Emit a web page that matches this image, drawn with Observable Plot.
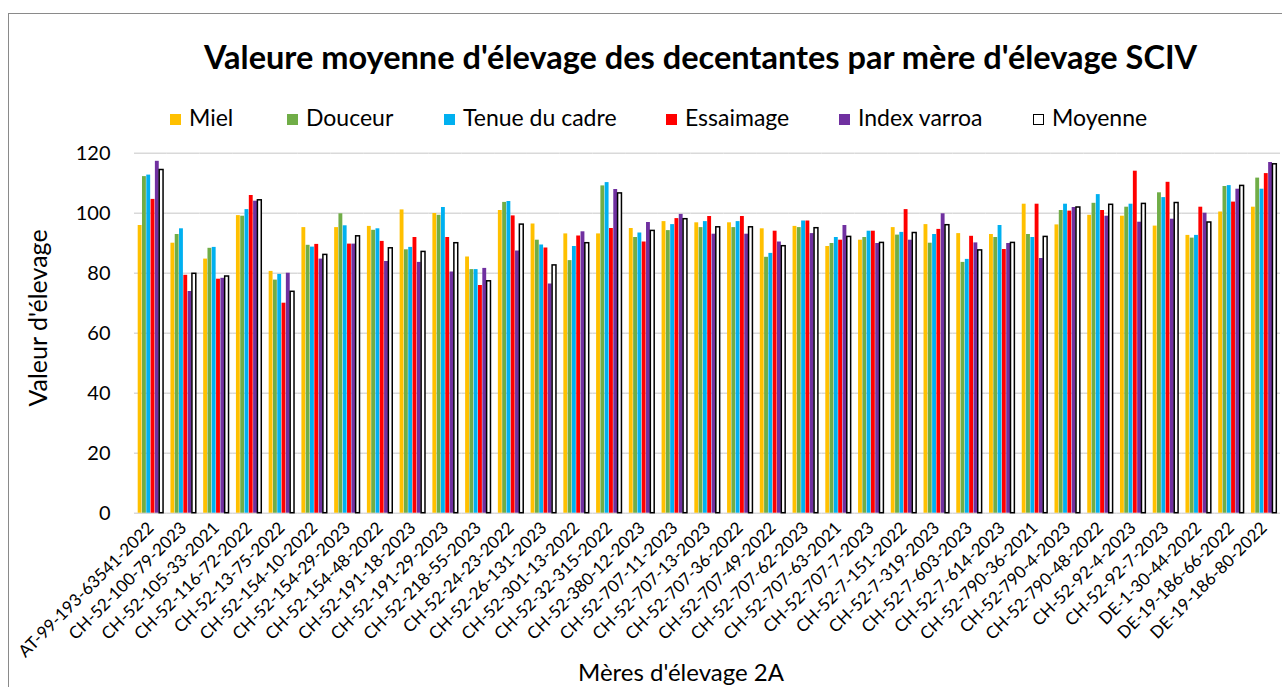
<!DOCTYPE html>
<html><head><meta charset="utf-8">
<script src="https://cdn.jsdelivr.net/npm/d3@7"></script>
<script src="https://cdn.jsdelivr.net/npm/@observablehq/plot@0.6"></script>
<style>
body{margin:0;background:#fff;font-family:Lato,sans-serif;color:#000;}
#wrap{position:relative;width:1282px;height:687px;overflow:hidden;background:#fff;}
#frame{position:absolute;left:8px;top:13px;width:1400px;height:800px;border-left:1.5px solid #8a8a8a;border-top:1.5px solid #8a8a8a;pointer-events:none;}
#header{position:absolute;left:0;top:0;width:1282px;height:130px;}
#title{position:absolute;left:204px;top:36px;font-size:32.5px;font-weight:bold;white-space:nowrap;line-height:42px;}
.li{position:absolute;top:103px;height:28px;line-height:28px;font-size:23px;white-space:nowrap;}
.sw{display:inline-block;width:11px;height:11px;margin-right:8px;vertical-align:middle;position:relative;top:-1px;box-sizing:border-box;}
#chart{position:absolute;left:0;top:130px;}
#ylab{position:absolute;left:37px;top:318px;transform:translate(-50%,-50%) rotate(-90deg);font-size:25px;white-space:nowrap;}
#xlab{position:absolute;left:681px;top:657px;transform:translateX(-50%);font-size:24px;white-space:nowrap;line-height:29px;}
</style>
</head><body>
<div id="wrap">
  <div id="header">
    <div id="title">Valeure moyenne d'élevage des decentantes par mère d'élevage SCIV</div>
    <div id="legend"></div>
  </div>
  <div id="chart"></div>
  <div id="ylab">Valeur d'élevage</div>
  <div id="xlab">Mères d'élevage 2A</div>
  <div id="frame"></div>
</div>
<script>
const names = ["AT-99-193-63541-2022","CH-52-100-79-2023","CH-52-105-33-2021","CH-52-116-72-2022","CH-52-13-75-2022","CH-52-154-10-2022","CH-52-154-29-2023","CH-52-154-48-2022","CH-52-191-18-2023","CH-52-191-29-2023","CH-52-218-55-2023","CH-52-24-23-2022","CH-52-26-131-2023","CH-52-301-13-2022","CH-52-32-315-2022","CH-52-380-12-2023","CH-52-707-11-2023","CH-52-707-13-2023","CH-52-707-36-2022","CH-52-707-49-2022","CH-52-707-62-2023","CH-52-707-63-2021","CH-52-707-7-2023","CH-52-7-151-2022","CH-52-7-319-2023","CH-52-7-603-2023","CH-52-7-614-2023","CH-52-790-36-2021","CH-52-790-4-2023","CH-52-790-48-2022","CH-52-92-4-2023","CH-52-92-7-2023","DE-1-30-44-2022","DE-19-186-66-2022","DE-19-186-80-2022"];
const miel      = [95.9,90.0,84.7,99.2,80.6,95.2,95.2,95.6,101.1,99.9,85.4,100.9,96.4,93.1,93.1,94.9,97.2,96.8,96.8,94.8,95.6,88.9,91.0,95.2,96.2,93.2,92.9,103.0,96.1,99.3,99.0,95.7,92.6,100.4,102.0];
const douceur   = [112.2,92.9,88.3,99.0,77.7,89.3,99.8,94.3,87.8,99.3,81.2,103.6,91.0,84.2,109.1,91.9,94.2,95.2,95.2,85.3,95.2,89.9,91.9,92.7,90.0,83.6,91.9,92.9,100.9,103.3,102.0,106.8,91.7,108.9,111.7];
const tenue     = [112.7,94.8,88.6,101.2,79.6,88.7,95.8,94.8,88.6,101.9,81.2,103.9,89.4,88.9,110.2,93.4,96.2,97.2,97.2,86.6,97.4,91.9,94.0,93.6,92.9,84.6,95.9,91.9,103.0,106.2,103.0,105.2,92.6,109.2,108.0];
const essaimage = [104.6,79.3,78.0,105.9,70.0,89.6,89.7,90.6,91.9,91.9,75.9,99.1,88.4,92.4,94.9,90.4,98.2,98.9,98.9,94.0,97.4,91.0,94.0,101.2,94.6,92.3,87.9,103.0,100.7,100.9,114.0,110.3,102.0,103.7,113.2];
const varroa    = [117.3,73.9,78.3,104.0,80.0,84.7,89.7,83.9,83.6,80.4,81.6,87.4,76.4,93.8,107.9,96.9,99.6,93.0,93.0,90.4,93.2,95.9,89.9,91.0,99.8,90.1,89.9,84.9,101.9,99.0,97.0,98.0,100.0,108.0,116.9];
const moyenne   = [114.4,79.8,78.9,104.3,73.8,86.1,92.3,88.3,87.1,90.0,77.3,96.2,82.6,90.0,106.6,94.1,98.0,95.3,95.3,89.0,95.0,92.1,90.1,93.4,96.0,87.6,90.1,92.1,101.9,102.8,103.1,103.4,96.9,109.1,116.3];
const series = ["Miel","Douceur","Tenue du cadre","Essaimage","Index varroa","Moyenne"];
const colors = ["#FFC000","#70AD47","#00B0F0","#FF0000","#7030A0","#FFFFFF"];
const yTicks = [0,20,40,60,80,100,120];
const legendX = [170,287,444,666,839,1033];

const values = [miel,douceur,tenue,essaimage,varroa,moyenne];
const data = names.flatMap((n,i) => series.map((s,j) => ({name:n, series:s, value:values[j][i]})));

// legend
const lg = document.getElementById("legend");
series.forEach((s,j) => {
  const it = document.createElement("div");
  it.className = "li";
  it.style.left = legendX[j] + "px";
  const sw = document.createElement("span");
  sw.className = "sw";
  sw.style.background = colors[j];
  if (s === "Moyenne") sw.style.border = "1.5px solid #000";
  it.appendChild(sw);
  it.appendChild(document.createTextNode(s));
  lg.appendChild(it);
});

const chart = Plot.plot({
  width:1282, height:557,
  marginLeft:134, marginRight:2, marginTop:22.7, marginBottom:174.3,
  fx:{domain:names, padding:0, round:false, label:null},
  x:{domain:series, paddingInner:0.1, paddingOuter:0.86, round:false, axis:null},
  y:{domain:[0,120], label:null},
  color:{domain:series, range:colors},
  style:{fontFamily:"Lato, sans-serif", color:"#000", background:"transparent", overflow:"visible"},
  marks:[
    Plot.gridY(yTicks, {stroke:"#d9d9d9", strokeOpacity:1, strokeWidth:1.5}),
    Plot.axisY(yTicks, {tickSize:0, tickPadding:24, fontSize:20, label:null}),
    Plot.axisFx({anchor:"bottom", tickRotate:-45, tickSize:0, tickPadding:12, fontSize:17, label:null}),
    Plot.barY(data.filter(d => d.series !== "Moyenne"), {fx:"name", x:"series", y:"value", fill:"series"}),
    Plot.barY(data.filter(d => d.series === "Moyenne"), {fx:"name", x:"series", y:"value", fill:"white", stroke:"black", strokeWidth:1.5})
  ]
});
document.getElementById("chart").appendChild(chart);
</script>
</body></html>
